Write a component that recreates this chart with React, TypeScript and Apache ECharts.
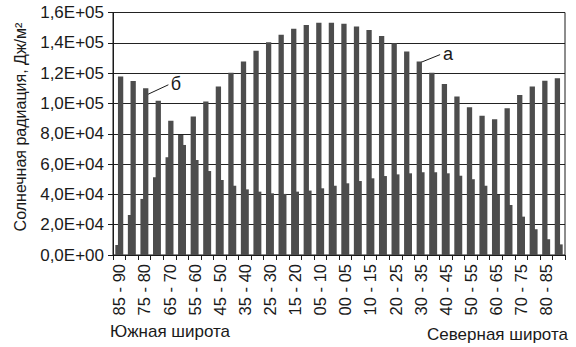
import React, { useEffect, useRef } from "react";
import * as echarts from "echarts";

const southBands = ["85 - 90","80 - 85","75 - 80","70 - 75","65 - 70","60 - 65","55 - 60","50 - 55","45 - 50","40 - 45","35 - 40","30 - 35","25 - 30","20 - 25","15 - 20","10 - 15","05 - 10","00 - 05"];
const northBands = ["00 - 05","05 - 10","10 - 15","15 - 20","20 - 25","25 - 30","30 - 35","35 - 40","40 - 45","45 - 50","50 - 55","55 - 60","60 - 65","65 - 70","70 - 75","75 - 80","80 - 85","85 - 90"];
const categories = [...southBands, ...northBands];

// series "а" (left bar of each pair)
const seriesA = [6600, 26400, 37000, 51300, 64500, 79200, 91300, 101200, 111100, 120300, 127600, 134800, 140300, 145400, 149200, 151800, 153300, 153300, 152500, 150700, 148500, 144500, 139700, 134200, 127600, 120300, 112900, 104500, 97500, 91900, 89600, 96800, 105600, 111100, 115000, 116600];
// series "б" (right bar of each pair)
const seriesB = [117700, 114800, 110000, 101800, 88600, 72600, 62700, 55400, 49500, 45700, 43300, 41800, 40700, 40300, 41800, 42500, 44000, 45700, 47300, 48800, 50600, 52100, 53200, 53900, 54600, 54600, 53900, 52300, 50000, 45700, 39600, 33000, 25300, 17000, 10400, 7000];

const yMin = 0;
const yMax = 160000;
const yStep = 20000;

const FONT = "'Liberation Sans', Arial, sans-serif";
const TXT = "#1a1a1a";
const BAR = "#4d4d4d";

function sci(v: number): string {
  if (v === 0) return "0,0E+00";
  const e = Math.floor(Math.log10(v));
  const m = (v / Math.pow(10, e)).toFixed(1).replace(".", ",");
  return m + "E+" + String(e).padStart(2, "0");
}

export default function App() {
  const ref = useRef<HTMLDivElement>(null);
  useEffect(() => {
    if (!ref.current) return;
    const chart = echarts.init(ref.current, undefined, { renderer: "svg" });
    chart.setOption({
      animation: false,
      backgroundColor: "#ffffff",
      grid: {
        left: 113,
        right: 11,
        top: 12.5,
        bottom: 92,
        show: true,
        borderColor: "#1a1a1a",
        borderWidth: 1,
      },
      xAxis: {
        type: "category",
        data: categories,
        boundaryGap: true,
        axisLine: { lineStyle: { color: "#1a1a1a", width: 1 } },
        axisTick: { show: true, interval: 0, length: 5, lineStyle: { color: "#1a1a1a" } },
        axisLabel: {
          interval: 1,
          rotate: 90,
          margin: 9,
          color: TXT,
          fontFamily: FONT,
          fontSize: 16.5,
        },
        splitLine: { show: false },
      },
      yAxis: {
        type: "value",
        min: yMin,
        max: yMax,
        interval: yStep,
        axisLine: { show: true, lineStyle: { color: "#1a1a1a", width: 1 } },
        axisTick: { show: true, length: 5, lineStyle: { color: "#1a1a1a" } },
        axisLabel: {
          margin: 9,
          color: TXT,
          fontFamily: FONT,
          fontSize: 17,
          formatter: (v: number) => sci(v),
        },
        splitLine: { show: true, lineStyle: { color: "#222222", width: 1 } },
      },
      series: [
        {
          name: "а",
          type: "bar",
          data: seriesA,
          barWidth: 5.3,
          barGap: "-50%",
          itemStyle: { color: BAR },
        },
        {
          name: "б",
          type: "bar",
          data: seriesB,
          barWidth: 5.3,
          barGap: "-50%",
          itemStyle: { color: BAR },
        },
      ],
    });

    // annotation anchors computed from data coordinates
    const pB = chart.convertToPixel({ xAxisIndex: 0, yAxisIndex: 0 }, [2, seriesB[2]]) as number[];
    const pA = chart.convertToPixel({ xAxisIndex: 0, yAxisIndex: 0 }, [24, seriesA[24]]) as number[];

    chart.setOption({
      graphic: [
        {
          type: "text",
          x: 20,
          y: 127,
          rotation: Math.PI / 2,
          style: {
            text: "Солнечная радиация, Дж/м²",
            fill: TXT,
            font: `16px ${FONT}`,
            align: "center",
            verticalAlign: "middle",
          },
        },
        {
          type: "text",
          x: 110,
          y: 331,
          style: {
            text: "Южная широта",
            fill: TXT,
            font: `17px ${FONT}`,
            align: "left",
            verticalAlign: "middle",
          },
        },
        {
          type: "text",
          x: 568,
          y: 334,
          style: {
            text: "Северная широта",
            fill: TXT,
            font: `17px ${FONT}`,
            align: "right",
            verticalAlign: "middle",
          },
        },
        {
          type: "line",
          shape: { x1: pB[0] + 2.5, y1: pB[1] + 6.5, x2: pB[0] + 24, y2: pB[1] - 3.5 },
          style: { stroke: "#1a1a1a", lineWidth: 1 },
        },
        {
          type: "text",
          x: pB[0] + 31.5,
          y: pB[1] - 4,
          style: {
            text: "б",
            fill: TXT,
            font: `18px ${FONT}`,
            align: "center",
            verticalAlign: "middle",
          },
        },
        {
          type: "line",
          shape: { x1: pA[0] - 1.5, y1: pA[1] + 1.5, x2: pA[0] + 19.5, y2: pA[1] - 7 },
          style: { stroke: "#1a1a1a", lineWidth: 1 },
        },
        {
          type: "text",
          x: pA[0] + 27.5,
          y: pA[1] - 8,
          style: {
            text: "а",
            fill: TXT,
            font: `18px ${FONT}`,
            align: "center",
            verticalAlign: "middle",
          },
        },
      ],
    });

    return () => chart.dispose();
  }, []);
  return <div ref={ref} style={{ width: 576, height: 347, position: "absolute", left: 0, top: 0 }} />;
}
